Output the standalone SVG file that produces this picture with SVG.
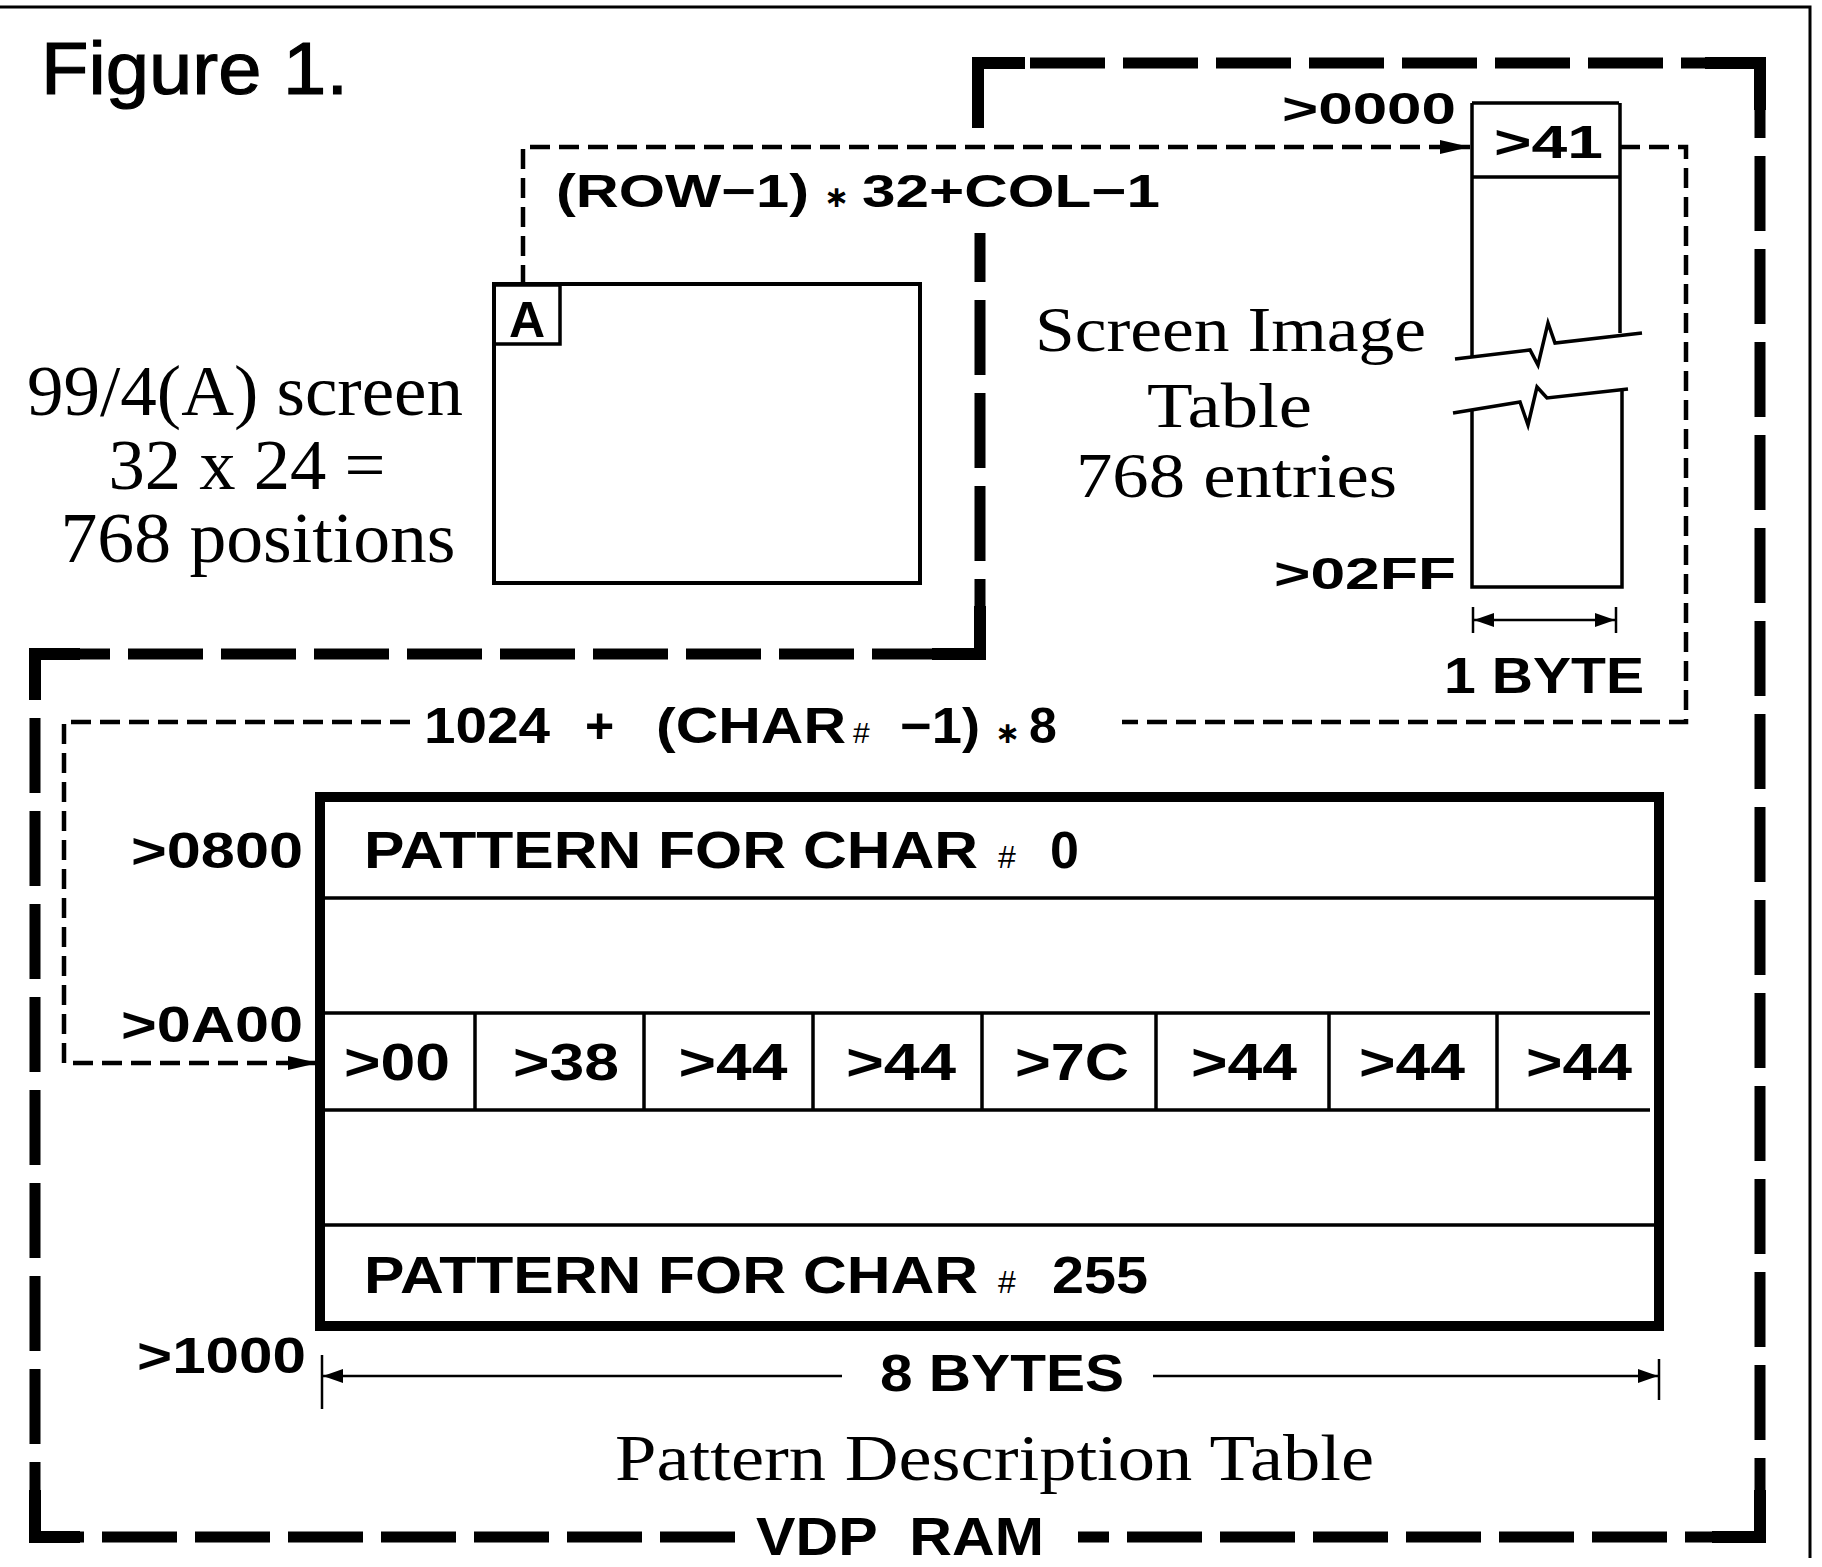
<svg xmlns="http://www.w3.org/2000/svg" width="1822" height="1567" viewBox="0 0 1822 1567">
<defs>
<style>
.bold{font-family:"Liberation Sans",Arial,sans-serif;font-weight:bold;fill:#000}
.light{font-family:"Liberation Serif","Times New Roman",serif;fill:#000}
.fig{font-family:"Liberation Sans",Arial,sans-serif;fill:#000;stroke:#000;stroke-width:1.2}
.thick{fill:none;stroke:#000;stroke-width:11;stroke-dasharray:75 18}
.corner{fill:none;stroke:#000;stroke-width:12;stroke-linejoin:miter}
.thin{fill:none;stroke:#000;stroke-width:4.5;stroke-dasharray:20 9}
.line{fill:none;stroke:#000;stroke-width:3.5}
.dim{fill:none;stroke:#000;stroke-width:2.5}
</style>
<marker id="arr" viewBox="0 0 30 20" refX="30" refY="10" markerWidth="30" markerHeight="20" markerUnits="userSpaceOnUse" orient="auto">
<path d="M0,3 L30,10 L0,17 Z" fill="#000"/>
</marker>
<marker id="darr" viewBox="0 0 20 16" refX="20" refY="8" markerWidth="20" markerHeight="16" markerUnits="userSpaceOnUse" orient="auto-start-reverse">
<path d="M0,1 L20,8 L0,15 Z" fill="#000"/>
</marker>
</defs>
<rect width="1822" height="1567" fill="#fff"/>

<!-- page frame -->
<path d="M0,7 H1810 V1558" fill="none" stroke="#000" stroke-width="3"/>

<g id="title">
<text class="fig" x="41" y="94" font-size="74" textLength="307" lengthAdjust="spacingAndGlyphs">Figure 1.</text>
</g>

<g id="vdp-ram">
<path class="thick" d="M1030,63 H1760"/>
<path class="thick" d="M1760,63 V1537"/>
<path class="thick" d="M1760,1537 H1078"/>
<path class="thick" d="M735,1537 H35"/>
<path class="thick" d="M35,1537 V654"/>
<path class="thick" d="M35,654 H980"/>
<path class="thick" d="M980,654 V233"/>
<path class="corner" d="M978,128 V63 H1025"/>
<path class="corner" d="M1705,63 H1760 V110"/>
<path class="corner" d="M1760,1490 V1537 H1712"/>
<path class="corner" d="M80,1537 H35 V1490"/>
<path class="corner" d="M35,700 V654 H80"/>
<path class="corner" d="M932,654 H980 V606"/>
<text class="bold" x="756" y="1555" font-size="54" textLength="288" lengthAdjust="spacingAndGlyphs" style="white-space:pre">VDP  RAM</text>
</g>

<g id="screen">
<rect x="494" y="284" width="426" height="299" fill="none" stroke="#000" stroke-width="4"/>
<rect x="494" y="285" width="66" height="59" fill="none" stroke="#000" stroke-width="3.5"/>
<text class="bold" x="527" y="337" font-size="50" text-anchor="middle">A</text>
<text class="light" font-size="72" text-anchor="middle">
<tspan x="254" y="415" textLength="436" lengthAdjust="spacingAndGlyphs">99/4(A) screen</tspan>
<tspan x="256" y="489" textLength="277" lengthAdjust="spacingAndGlyphs">32 x 24 =</tspan>
<tspan x="258" y="562" textLength="395" lengthAdjust="spacingAndGlyphs">768 positions</tspan>
</text>
</g>

<g id="screen-image-table">
<path class="line" d="M1472,103 H1619 M1472,177 H1619 M1472,103 V357 M1620,103 V333"/>
<polyline class="line" points="1455,359 1530,350 1538,365 1548,323 1555,343 1642,333"/>
<polyline class="line" points="1453,413 1520,402 1528,425 1537,387 1547,398 1628,389"/>
<path class="line" d="M1472,411 V587 H1622 V390"/>
<text class="bold" x="1494" y="158" font-size="46" textLength="109" lengthAdjust="spacingAndGlyphs">&gt;41</text>
<text class="bold" x="1282" y="124" font-size="44" textLength="174" lengthAdjust="spacingAndGlyphs">&gt;0000</text>
<text class="bold" x="1274" y="589" font-size="44" textLength="182" lengthAdjust="spacingAndGlyphs">&gt;02FF</text>
<text class="light" font-size="64">
<tspan x="1035" y="351" textLength="391" lengthAdjust="spacingAndGlyphs">Screen Image</tspan>
<tspan x="1147" y="427" textLength="165" lengthAdjust="spacingAndGlyphs">Table</tspan>
<tspan x="1076" y="497" textLength="321" lengthAdjust="spacingAndGlyphs">768 entries</tspan>
</text>
<path class="dim" d="M1473,607 V633 M1616,607 V633"/>
<path class="dim" d="M1474,620 H1615" marker-start="url(#darr)" marker-end="url(#darr)"/>
<text class="bold" x="1444" y="693" font-size="50" textLength="200" lengthAdjust="spacingAndGlyphs">1 BYTE</text>
</g>

<g id="pattern-table">
<rect x="320" y="797" width="1339" height="529" fill="none" stroke="#000" stroke-width="10"/>
<path class="line" d="M320,898 H1659 M320,1225 H1659"/>
<path class="line" d="M325,1013 H1650 M325,1110 H1650"/>
<path class="line" d="M475,1013 V1110 M644,1013 V1110 M813,1013 V1110 M982,1013 V1110 M1156,1013 V1110 M1329,1013 V1110 M1497,1013 V1110"/>
<text class="bold" font-size="52" y="868">
<tspan x="364" textLength="614" lengthAdjust="spacingAndGlyphs">PATTERN FOR CHAR</tspan>
<tspan x="998" font-size="32" font-weight="normal">#</tspan>
<tspan x="1050">0</tspan>
</text>
<text class="bold" font-size="52" y="1293">
<tspan x="364" textLength="614" lengthAdjust="spacingAndGlyphs">PATTERN FOR CHAR</tspan>
<tspan x="998" font-size="32" font-weight="normal">#</tspan>
<tspan x="1052" textLength="96" lengthAdjust="spacingAndGlyphs">255</tspan>
</text>
<g class="bold" font-size="52" text-anchor="middle">
<text x="397" y="1080" textLength="106" lengthAdjust="spacingAndGlyphs">&gt;00</text>
<text x="566" y="1080" textLength="106" lengthAdjust="spacingAndGlyphs">&gt;38</text>
<text x="733" y="1080" textLength="109" lengthAdjust="spacingAndGlyphs">&gt;44</text>
<text x="901" y="1080" textLength="110" lengthAdjust="spacingAndGlyphs">&gt;44</text>
<text x="1072" y="1080" textLength="114" lengthAdjust="spacingAndGlyphs">&gt;7C</text>
<text x="1244" y="1080" textLength="106" lengthAdjust="spacingAndGlyphs">&gt;44</text>
<text x="1412" y="1080" textLength="106" lengthAdjust="spacingAndGlyphs">&gt;44</text>
<text x="1579" y="1080" textLength="106" lengthAdjust="spacingAndGlyphs">&gt;44</text>
</g>
<text class="bold" x="131" y="868" font-size="50" textLength="172" lengthAdjust="spacingAndGlyphs">&gt;0800</text>
<text class="bold" x="121" y="1042" font-size="50" textLength="182" lengthAdjust="spacingAndGlyphs">&gt;0A00</text>
<text class="bold" x="137" y="1373" font-size="50" textLength="169" lengthAdjust="spacingAndGlyphs">&gt;1000</text>
<path class="dim" d="M322,1355 V1409 M1659,1359 V1400"/>
<path class="dim" d="M842,1376 H323" marker-end="url(#darr)"/>
<path class="dim" d="M1153,1376 H1658" marker-end="url(#darr)"/>
<text class="bold" x="880" y="1391" font-size="52" textLength="244" lengthAdjust="spacingAndGlyphs">8 BYTES</text>
<text class="light" x="615" y="1480" font-size="66" textLength="759" lengthAdjust="spacingAndGlyphs">Pattern Description Table</text>
</g>

<g id="connectors">
<path class="thin" d="M523,285 V147 H1470" marker-end="url(#arr)"/>
<path class="thin" d="M1620,147 H1686 V722 H1122 M410,722 H64 V1063 H318" marker-end="url(#arr)"/>
<text class="bold" font-size="46" y="207">
<tspan x="556" textLength="253" lengthAdjust="spacingAndGlyphs">(ROW−1)</tspan>
<tspan x="824" font-family="DejaVu Sans" font-size="30">∗</tspan>
<tspan x="862" textLength="298" lengthAdjust="spacingAndGlyphs">32+COL−1</tspan>
</text>
<text class="bold" font-size="50" y="743">
<tspan x="424" textLength="126" lengthAdjust="spacingAndGlyphs">1024</tspan>
<tspan x="585">+</tspan>
<tspan x="656" textLength="190" lengthAdjust="spacingAndGlyphs">(CHAR</tspan>
<tspan x="853" font-size="30" font-weight="normal">#</tspan>
<tspan x="900" textLength="80" lengthAdjust="spacingAndGlyphs">−1)</tspan>
<tspan x="995" font-family="DejaVu Sans" font-size="30">∗</tspan>
<tspan x="1029">8</tspan>
</text>
</g>
</svg>
